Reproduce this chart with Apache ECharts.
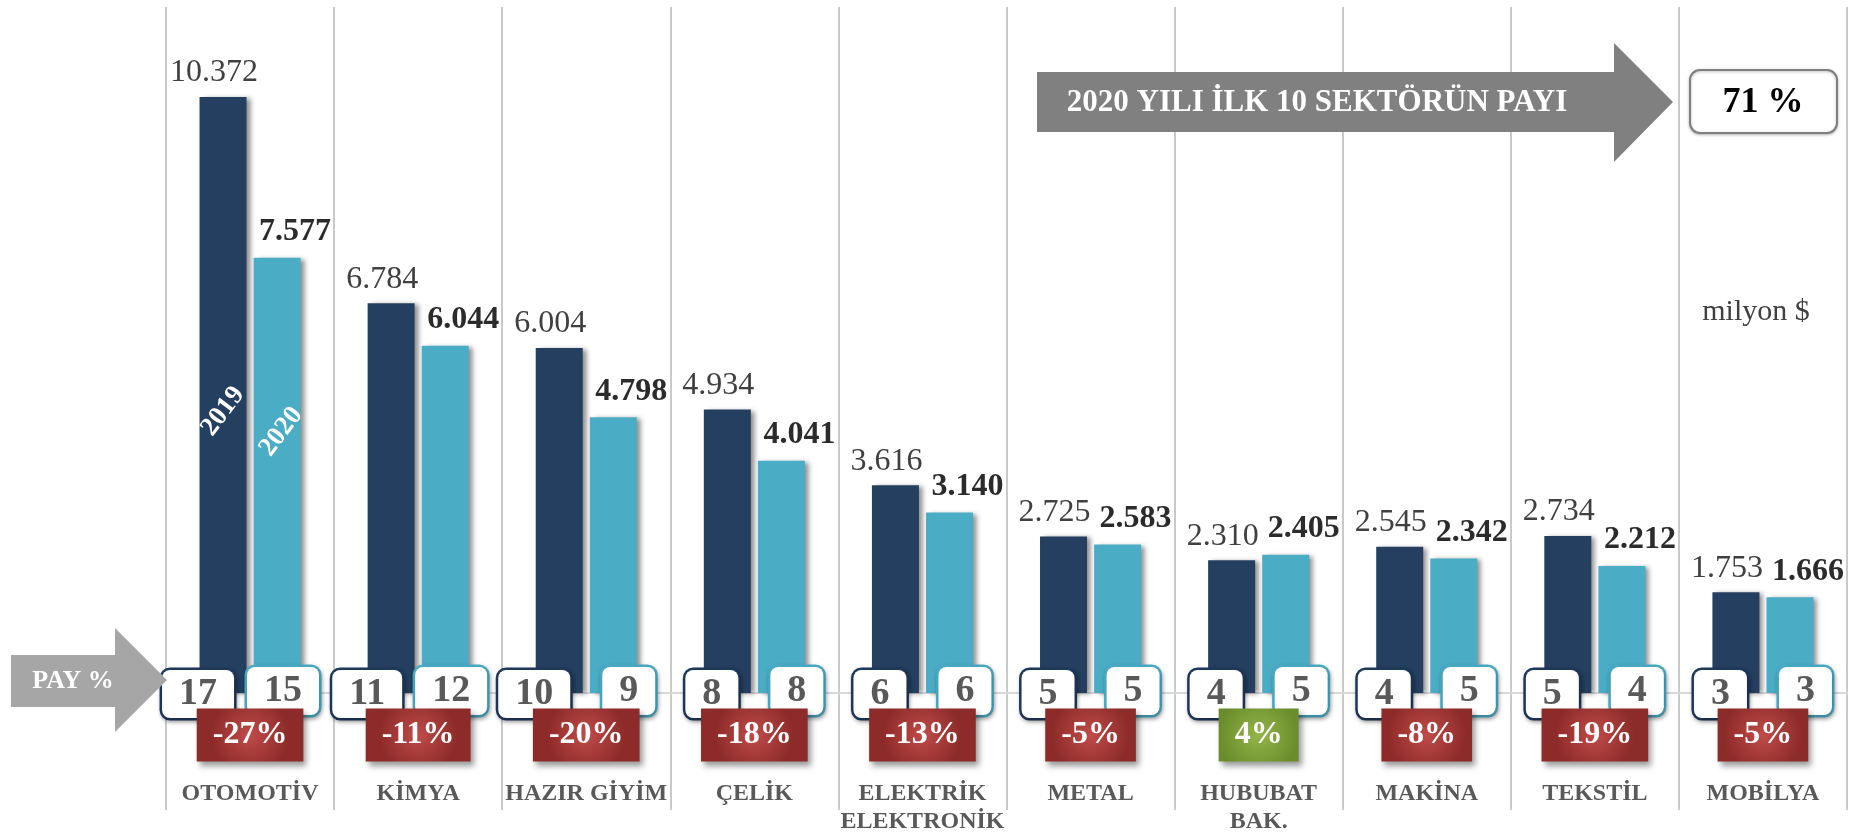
<!DOCTYPE html>
<html>
<head>
<meta charset="utf-8">
<script src="https://cdn.jsdelivr.net/npm/echarts/dist/echarts.min.js"></script>
<style>
html, body { margin: 0; padding: 0; background: #fff; }
#chart { width: 1861px; height: 834px; }
</style>
</head>
<body>
<div id="chart"></div>
<script>
// sektörler ve ihracat değerleri (milyon $)
var sektorler = ['OTOMOTİV', 'KİMYA', 'HAZIR GİYİM', 'ÇELİK', 'ELEKTRİK\nELEKTRONİK', 'METAL', 'HUBUBAT\nBAK.', 'MAKİNA', 'TEKSTİL', 'MOBİLYA'];
var ihracat2019 = [10372, 6784, 6004, 4934, 3616, 2725, 2310, 2545, 2734, 1753];
var ihracat2020 = [7577, 6044, 4798, 4041, 3140, 2583, 2405, 2342, 2212, 1666];
var pay2019 = [17, 11, 10, 8, 6, 5, 4, 4, 5, 3];
var pay2020 = [15, 12, 9, 8, 6, 5, 5, 5, 4, 3];
var degisim = [-27, -11, -20, -18, -13, -5, 4, -8, -19, -5];
var toplamPay = 71;

var font = '"Liberation Serif", "Times New Roman", serif';
var koyu = '#253f60';
var acik = '#4bacc6';

var chart = echarts.init(document.getElementById('chart'));

function binlik(v) {
    return String(v).replace(/\B(?=(\d{3})+(?!\d))/g, '.');
}

var kirmizi = new echarts.graphic.RadialGradient(0.5, 0.5, 0.75, [
    {offset: 0, color: '#c04b49'},
    {offset: 1, color: '#8c2b29'}
]);
var yesil = new echarts.graphic.RadialGradient(0.5, 0.5, 0.75, [
    {offset: 0, color: '#93b548'},
    {offset: 1, color: '#6b8c2c'}
]);

// pay kutuları (beyaz yuvarlak kutular)
function payKutusu(values, color, dx, dy) {
    return {
        type: 'scatter',
        z: 5,
        silent: true,
        symbolSize: 1,
        itemStyle: {color: 'rgba(0,0,0,0)', opacity: 1},
        data: values.map(function (v, i) { return [sektorler[i], 0, v]; }),
        label: {
            show: true,
            position: 'inside',
            align: 'right',
            verticalAlign: 'middle',
            offset: [dx, dy],
            formatter: function (p) { return p.value[2]; },
            fontFamily: font,
            fontWeight: 'bold',
            fontSize: 38,
            lineHeight: 36,
            color: '#595959',
            backgroundColor: '#ffffff',
            borderColor: color,
            borderWidth: 2.5,
            borderRadius: 8,
            padding: [6, 17, 6, 17],
            shadowColor: 'rgba(0,0,0,0.3)',
            shadowBlur: 4,
            shadowOffsetX: 1,
            shadowOffsetY: 2
        }
    };
}

var option = {
    animation: false,
    grid: {left: 166, right: 14, top: 7, bottom: 24, outerBoundsMode: 'none'},
    xAxis: [
        {
            type: 'category',
            data: sektorler,
            axisLine: {show: true, onZero: true, lineStyle: {color: '#d9d9d9', width: 2}},
            axisTick: {show: false},
            axisLabel: {show: false},
            splitLine: {show: true, lineStyle: {color: '#b7b7b7', width: 1.5}}
        },
        {
            // sektör adları
            type: 'category',
            position: 'bottom',
            data: sektorler,
            axisLine: {show: false, onZero: false},
            axisTick: {show: false},
            splitLine: {show: false},
            axisLabel: {
                interval: 0,
                margin: -30,
                fontFamily: font,
                fontWeight: 'bold',
                fontSize: 24,
                lineHeight: 28,
                color: '#595959'
            }
        }
    ],
    yAxis: {
        type: 'value',
        min: -2036,
        max: 11939,
        show: false
    },
    series: [
        {
            name: '2019',
            type: 'bar',
            barWidth: 47,
            barGap: '15%',
            data: ihracat2019,
            itemStyle: {
                color: koyu,
                shadowColor: 'rgba(0,0,0,0.45)',
                shadowBlur: 5,
                shadowOffsetX: 4,
                shadowOffsetY: 1
            },
            label: {
                show: true,
                position: 'top',
                distance: 8,
                offset: [-9, 0],
                formatter: function (p) { return binlik(p.value); },
                fontFamily: font,
                fontSize: 32,
                color: '#404040'
            },
            markPoint: {
                symbol: 'circle',
                symbolSize: 1,
                silent: true,
                itemStyle: {color: 'rgba(0,0,0,0)'},
                label: {
                    show: true,
                    position: 'inside',
                    formatter: '2019',
                    rotate: 53,
                    fontFamily: font,
                    fontWeight: 'bold',
                    fontSize: 27,
                    color: '#ffffff'
                },
                data: [{coord: [sektorler[0], 4900]}]
            }
        },
        {
            name: '2020',
            type: 'bar',
            barWidth: 47,
            barGap: '15%',
            data: ihracat2020,
            itemStyle: {
                color: acik,
                shadowColor: 'rgba(0,0,0,0.45)',
                shadowBlur: 5,
                shadowOffsetX: 4,
                shadowOffsetY: 1
            },
            label: {
                show: true,
                position: 'top',
                distance: 10,
                offset: [18, 0],
                formatter: function (p) { return binlik(p.value); },
                fontFamily: font,
                fontWeight: 'bold',
                fontSize: 32,
                color: '#2b2b2b'
            },
            markPoint: {
                symbol: 'circle',
                symbolSize: 1,
                silent: true,
                itemStyle: {color: 'rgba(0,0,0,0)'},
                label: {
                    show: true,
                    position: 'inside',
                    formatter: '2020',
                    rotate: 53,
                    offset: [7, 0],
                    fontFamily: font,
                    fontWeight: 'bold',
                    fontSize: 27,
                    color: '#ffffff'
                },
                data: [{coord: [sektorler[0], 4450]}]
            }
        },
        payKutusu(pay2019, '#1f3a5c', -16, 1),
        payKutusu(pay2020, acik, 69, -2),
        {
            // değişim kutuları
            type: 'scatter',
            z: 6,
            silent: true,
            symbolSize: 1,
            itemStyle: {color: 'rgba(0,0,0,0)', opacity: 1},
            data: degisim.map(function (v, i) {
                return {value: [sektorler[i], 0, v], label: {backgroundColor: v >= 0 ? yesil : kirmizi}};
            }),
            label: {
                show: true,
                position: 'inside',
                offset: [0, 42],
                formatter: function (p) { return p.value[2] + '%'; },
                fontFamily: font,
                fontWeight: 'bold',
                fontSize: 32,
                lineHeight: 33,
                color: '#ffffff',
                padding: [10, 16, 10, 16],
                shadowColor: 'rgba(0,0,0,0.4)',
                shadowBlur: 6,
                shadowOffsetX: 3,
                shadowOffsetY: 4
            }
        }
    ],
    graphic: [
        {
            type: 'polygon', z: 10,
            shape: {points: [[11, 655], [115, 655], [115, 628], [167, 680], [115, 732], [115, 707], [11, 707]]},
            style: {fill: '#a6a6a6'}
        },
        {
            type: 'text', z: 11, x: 73, y: 681,
            style: {text: 'PAY %', fill: '#ffffff', fontFamily: font, fontWeight: 'bold', fontSize: 26, align: 'center', verticalAlign: 'middle'}
        },
        {
            type: 'polygon', z: 10,
            shape: {points: [[1037, 72], [1614, 72], [1614, 43], [1673, 102], [1614, 162], [1614, 132], [1037, 132]]},
            style: {fill: '#808080'}
        },
        {
            type: 'text', z: 11, x: 1317, y: 103,
            style: {text: '2020 YILI İLK 10 SEKTÖRÜN PAYI', fill: '#ffffff', fontFamily: font, fontWeight: 'bold', fontSize: 31, align: 'center', verticalAlign: 'middle'}
        },
        {
            type: 'rect', z: 10,
            shape: {x: 1690, y: 70, width: 147, height: 63, r: 10},
            style: {fill: '#ffffff', stroke: '#7f7f7f', lineWidth: 2, shadowColor: 'rgba(0,0,0,0.25)', shadowBlur: 3, shadowOffsetY: 1}
        },
        {
            type: 'text', z: 11, x: 1763, y: 103,
            style: {text: toplamPay + ' %', fill: '#000000', fontFamily: font, fontWeight: 'bold', fontSize: 36, align: 'center', verticalAlign: 'middle'}
        },
        {
            type: 'text', z: 11, x: 1756, y: 312,
            style: {text: 'milyon $', fill: '#404040', fontFamily: font, fontSize: 30, align: 'center', verticalAlign: 'middle'}
        }
    ]
};

chart.setOption(option);
</script>
</body>
</html>
